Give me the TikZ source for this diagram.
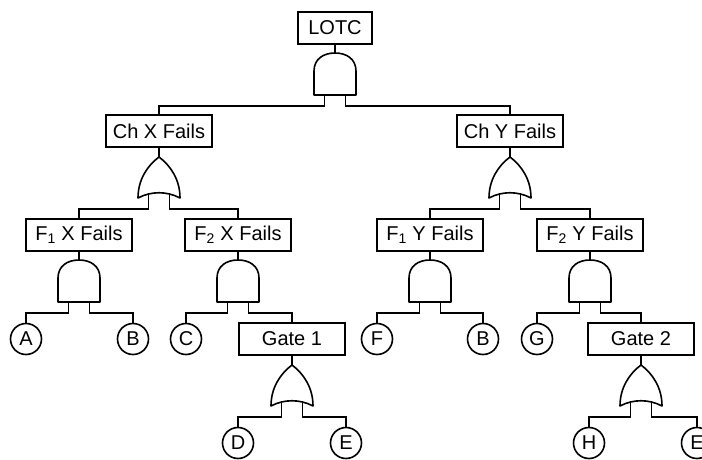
\documentclass[tikz,border=0pt]{standalone}
\usepackage{fontspec}
\setmainfont{Liberation Sans}
\tikzset{
  conn/.style={line width=1.6pt},
  gate/.style={line width=1.6pt, line join=round},
  evbox/.style={draw, line width=1.6pt, minimum width=106pt, minimum height=32pt, inner sep=0pt, font=\fontsize{20}{24}\selectfont},
  basic/.style={draw, circle, line width=1.6pt, minimum size=31pt, inner sep=0pt, font=\fontsize{20}{24}\selectfont},
  andgate/.pic={
    \draw[gate] (-21,0) -- (-21,-24) .. controls (-21,-36) and (-11.6,-42) .. (0,-42)
      .. controls (11.6,-42) and (21,-36) .. (21,-24) -- (21,0) -- cycle;
    \coordinate (-top) at (0,-42);
    \coordinate (-l) at (-10.5,0);
    \coordinate (-r) at (10.5,0);
    \coordinate (-lb) at (-10.5,11);
    \coordinate (-rb) at (10.5,11);
  },
  orgate/.pic={
    \draw[gate] (-21,0) .. controls (-21,-18) and (-12,-32) .. (0,-41)
      .. controls (12,-32) and (21,-18) .. (21,0)
      .. controls (8,-7) and (-8,-7) .. cycle;
    \coordinate (-top) at (0,-41);
    \coordinate (-l) at (-10.5,-3.9);
    \coordinate (-r) at (10.5,-3.9);
    \coordinate (-lb) at (-10.5,11);
    \coordinate (-rb) at (10.5,11);
  }
}
\begin{document}
\begin{tikzpicture}[x=1pt,y=-1pt]
\useasboundingbox (0,0) rectangle (702,460);
% events
\node[evbox, minimum width=74pt] (lotc) at (335,28) {LOTC};
\node[evbox] (chx) at (159,131) {Ch X Fails};
\node[evbox] (chy) at (510,131) {Ch Y Fails};
\node[evbox] (f1x) at (79,235) {F\textsubscript{1} X Fails};
\node[evbox] (f2x) at (238,235) {F\textsubscript{2} X Fails};
\node[evbox] (f1y) at (430,235) {F\textsubscript{1} Y Fails};
\node[evbox] (f2y) at (590,235) {F\textsubscript{2} Y Fails};
\node[evbox] (gt1) at (292,339) {Gate 1};
\node[evbox] (gt2) at (641,339) {Gate 2};
% basic events
\node[basic] (a) at (26,339) {A};
\node[basic] (b1) at (133,339) {B};
\node[basic] (c) at (186,339) {C};
\node[basic] (f) at (377,339) {F};
\node[basic] (b2) at (483,339) {B};
\node[basic] (g) at (537,339) {G};
\node[basic] (d) at (238,443) {D};
\node[basic] (e1) at (346,443) {E};
\node[basic] (h) at (589,443) {H};
\node[basic] (e2) at (697,443) {E};
% gates
\pic (g0) at (335,95) {andgate};
\pic (g1) at (159,198) {orgate};
\pic (g2) at (510,198) {orgate};
\pic (g3) at (79,302) {andgate};
\pic (g4) at (238,302) {andgate};
\pic (g5) at (430,302) {andgate};
\pic (g6) at (590,302) {andgate};
\pic (g7) at (292,406) {orgate};
\pic (g8) at (641,406) {orgate};
% connectors
\draw[conn] (lotc) -- (g0-top);
\draw[conn] (g0-l) -- (g0-lb) -| (chx);
\draw[conn] (g0-r) -- (g0-rb) -| (chy);
\draw[conn] (chx) -- (g1-top);
\draw[conn] (chy) -- (g2-top);
\draw[conn] (g1-l) -- (g1-lb) -| (f1x);
\draw[conn] (g1-r) -- (g1-rb) -| (f2x);
\draw[conn] (g2-l) -- (g2-lb) -| (f1y);
\draw[conn] (g2-r) -- (g2-rb) -| (f2y);
\draw[conn] (f1x) -- (g3-top);
\draw[conn] (f2x) -- (g4-top);
\draw[conn] (f1y) -- (g5-top);
\draw[conn] (f2y) -- (g6-top);
\draw[conn] (g3-l) -- (g3-lb) -| (a);
\draw[conn] (g3-r) -- (g3-rb) -| (b1);
\draw[conn] (g4-l) -- (g4-lb) -| (c);
\draw[conn] (g4-r) -- (g4-rb) -| (gt1);
\draw[conn] (g5-l) -- (g5-lb) -| (f);
\draw[conn] (g5-r) -- (g5-rb) -| (b2);
\draw[conn] (g6-l) -- (g6-lb) -| (g);
\draw[conn] (g6-r) -- (g6-rb) -| (gt2);
\draw[conn] (gt1) -- (g7-top);
\draw[conn] (gt2) -- (g8-top);
\draw[conn] (g7-l) -- (g7-lb) -| (d);
\draw[conn] (g7-r) -- (g7-rb) -| (e1);
\draw[conn] (g8-l) -- (g8-lb) -| (h);
\draw[conn] (g8-r) -- (g8-rb) -| (e2);
\end{tikzpicture}
\end{document}
